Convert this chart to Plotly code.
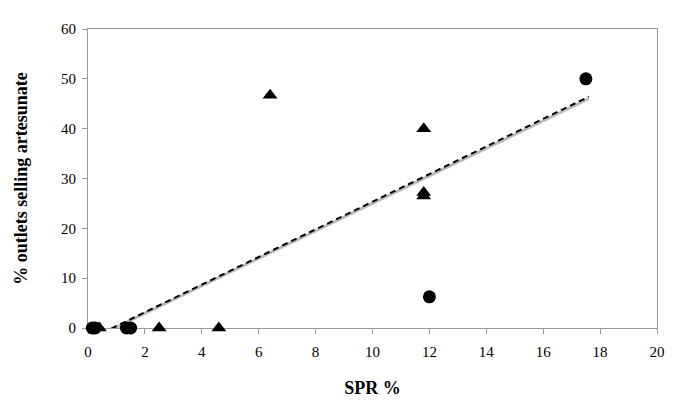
import plotly.graph_objects as go

circle_x = [0.15, 0.25, 1.35, 1.5, 12.0, 17.5]
circle_y = [0, 0, 0, 0, 6.25, 50]
tri_x = [0.4, 2.5, 4.6, 6.4, 11.8, 11.8, 11.8]
tri_y = [0, 0, 0, 46.7, 40, 26.5, 27.2]
trend_x = [0.5, 17.6]
trend_y = [-1.0, 46.4]
trend2_y = [-1.2, 46.0]
x_ticks = [0, 2, 4, 6, 8, 10, 12, 14, 16, 18, 20]
y_ticks = [0, 10, 20, 30, 40, 50, 60]

fig = go.Figure()
fig.add_trace(go.Scatter(x=trend_x, y=trend2_y, mode="lines",
                         line=dict(color="#bbbbbb", width=3), showlegend=False))
fig.add_trace(go.Scatter(x=trend_x, y=trend_y, mode="lines",
                         line=dict(color="black", width=2, dash="6px,4px"), showlegend=False))
fig.add_trace(go.Scatter(x=tri_x, y=tri_y, mode="markers",
                         marker=dict(symbol="triangle-up", size=13, color="black"),
                         showlegend=False, cliponaxis=False))
fig.add_trace(go.Scatter(x=circle_x, y=circle_y, mode="markers",
                         marker=dict(symbol="circle", size=13, color="black"),
                         showlegend=False, cliponaxis=False))

axis_common = dict(showgrid=False, zeroline=False, showline=True, linecolor="#999999",
                   linewidth=1.2, mirror=True, ticks="outside", ticklen=5,
                   tickcolor="#999999", layer="below traces",
                   tickfont=dict(family="Liberation Serif", size=15, color="black"))

fig.update_xaxes(range=[0, 20], tickvals=x_ticks, ticklabelstandoff=5, **axis_common,
                 title=dict(text="<b>SPR %</b>", font=dict(family="Liberation Serif", size=18, color="black"),
                            standoff=22))
fig.update_yaxes(range=[0, 60], tickvals=y_ticks, ticklabelstandoff=3, **axis_common,
                 title=dict(text="<b>% outlets selling artesunate</b>",
                            font=dict(family="Liberation Serif", size=18, color="black"),
                            standoff=28))

# compensate for the 8px default body margin of the page
fig.update_layout(width=685, height=418, margin=dict(l=77, r=36, t=21, b=98),
                  plot_bgcolor="white", paper_bgcolor="white")

fig.write_html("out.html")
